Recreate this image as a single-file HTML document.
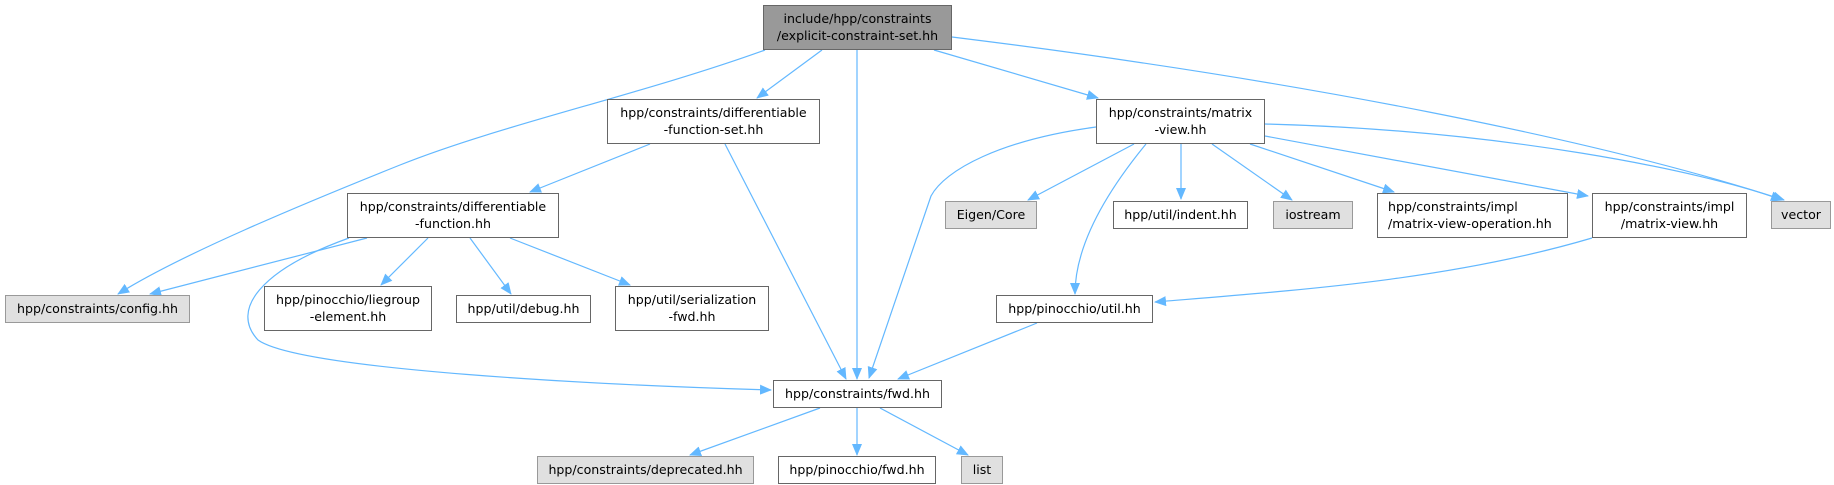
<!DOCTYPE html>
<html><head><meta charset="utf-8"><style>
html,body{margin:0;padding:0;background:#fff;}
body{width:1834px;height:485px;position:relative;overflow:hidden;font-family:"DejaVu Sans","Liberation Sans",sans-serif;}
.n{position:absolute;box-sizing:border-box;border:1px solid #666;background:#fff;font-size:12.6px;line-height:16.5px;color:#000;text-align:center;display:flex;flex-direction:column;justify-content:center;white-space:nowrap;}
.g{background:#e0e0e0;border-color:#999;}
.r{background:#999;border-color:#666;}
svg{position:absolute;left:0;top:0;}
</style></head><body>
<svg width="1834" height="485" viewBox="0 0 1834 485">
<defs><marker id="a" markerWidth="12" markerHeight="10" refX="11" refY="5" orient="auto" markerUnits="userSpaceOnUse"><path d="M0,0 L12,5 L0,10 z" fill="#63b8ff"/></marker></defs>
<g fill="none" stroke="#63b8ff" stroke-width="1.2" marker-end="url(#a)">
<path d="M765 50 C640 95 500 125 400 165 C300 205 180 255 118 294"/>
<path d="M822 50 L757 98"/>
<path d="M857 50 L857 379"/>
<path d="M934 50 L1098 98"/>
<path d="M952 37 C1300 80 1600 140 1784 200"/>
<path d="M650 144 L530 192"/>
<path d="M725 144 L846 379"/>
<path d="M1096 127 C1000 140 945 170 931 196 L869 378"/>
<path d="M1134 144 L1028 200"/>
<path d="M1146 144 C1100 200 1075 250 1075 294"/>
<path d="M1181 144 L1181 199"/>
<path d="M1212 144 L1292 200"/>
<path d="M1250 144 L1394 192"/>
<path d="M1265 136 L1588 196"/>
<path d="M1265 124 C1500 130 1700 170 1782 200"/>
<path d="M1592 238 C1450 280 1300 290 1155 302"/>
<path d="M1037 323 L898 379"/>
<path d="M367 238 L150 294"/>
<path d="M349 238 C260 270 230 310 258 340 C300 370 600 385 771 390"/>
<path d="M428 238 L381 285"/>
<path d="M470 238 L511 294"/>
<path d="M510 238 L630 285"/>
<path d="M820 408 L690 455"/>
<path d="M857 408 L857 455"/>
<path d="M880 408 L968 455"/>
</g>
</svg>
<div class="n r" style="left:763px;top:5px;width:189px;height:45px;">include/hpp/constraints<br>/explicit-constraint-set.hh</div>
<div class="n" style="left:607px;top:99px;width:213px;height:45px;">hpp/constraints/differentiable<br>-function-set.hh</div>
<div class="n" style="left:1096px;top:99px;width:169px;height:45px;">hpp/constraints/matrix<br>-view.hh</div>
<div class="n" style="left:347px;top:193px;width:212px;height:45px;">hpp/constraints/differentiable<br>-function.hh</div>
<div class="n g" style="left:5px;top:295px;width:185px;height:28px;">hpp/constraints/config.hh</div>
<div class="n" style="left:264px;top:286px;width:168px;height:45px;">hpp/pinocchio/liegroup<br>-element.hh</div>
<div class="n" style="left:456px;top:295px;width:135px;height:28px;">hpp/util/debug.hh</div>
<div class="n" style="left:615px;top:286px;width:154px;height:45px;">hpp/util/serialization<br>-fwd.hh</div>
<div class="n" style="left:773px;top:380px;width:169px;height:28px;">hpp/constraints/fwd.hh</div>
<div class="n g" style="left:537px;top:456px;width:217px;height:28px;">hpp/constraints/deprecated.hh</div>
<div class="n" style="left:778px;top:456px;width:158px;height:28px;">hpp/pinocchio/fwd.hh</div>
<div class="n g" style="left:961px;top:456px;width:42px;height:28px;">list</div>
<div class="n g" style="left:945px;top:201px;width:92px;height:28px;">Eigen/Core</div>
<div class="n" style="left:1113px;top:201px;width:135px;height:28px;">hpp/util/indent.hh</div>
<div class="n g" style="left:1273px;top:201px;width:80px;height:28px;">iostream</div>
<div class="n" style="left:1377px;top:193px;width:191px;height:45px;text-align:left;padding-left:10px;">hpp/constraints/impl<br>/matrix-view-operation.hh</div>
<div class="n" style="left:1592px;top:193px;width:155px;height:45px;">hpp/constraints/impl<br>/matrix-view.hh</div>
<div class="n g" style="left:1771px;top:201px;width:60px;height:28px;">vector</div>
<div class="n" style="left:996px;top:295px;width:157px;height:28px;">hpp/pinocchio/util.hh</div>
</body></html>
